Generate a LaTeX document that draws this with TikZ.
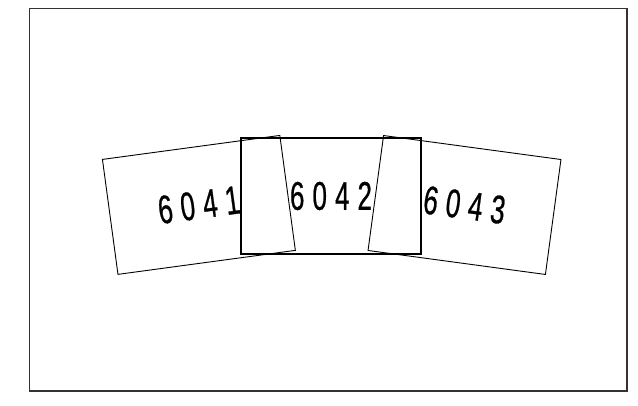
\documentclass[tikz,border=0pt]{standalone}
\usepackage{fontspec}
\setmainfont{Liberation Sans}
\newfontfamily\digfont[FakeBold=0.8]{Liberation Sans}
\newcommand{\digs}[4]{\scalebox{0.65}[1]{\digfont\fontsize{40}{40}\selectfont #1\kern12.4pt#2\kern12.4pt#3\kern12.4pt#4}}
\tikzset{
  card/.style={draw=black, line width=0.9pt, minimum width=179pt, minimum height=116pt, inner sep=0pt},
  midcard/.style={draw=black, line width=1.8pt, minimum width=180pt, minimum height=116pt, inner sep=0pt},
}
\begin{document}
\begin{tikzpicture}[x=1pt,y=-1pt]
\useasboundingbox (0,0) rectangle (638,406);
\draw[line width=1.2pt, black!80] (29.5,8.5) rectangle (627,391);
\node[card, rotate=7.7] (left) at (198.9,204.9) {\digs6041};
\node[card, rotate=-7.7] (right) at (464.5,205) {\digs6043};
\node[midcard] (mid) at (331,196) {\digs6042};
\end{tikzpicture}
\end{document}
